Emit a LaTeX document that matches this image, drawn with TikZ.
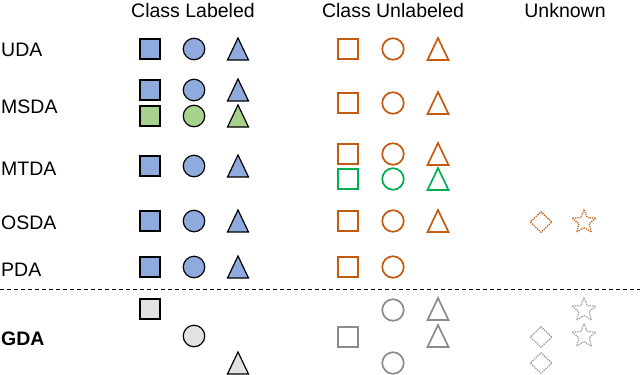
\documentclass[tikz,border=0pt]{standalone}
\usepackage{fontspec}
\setmainfont{Liberation Sans}
\usetikzlibrary{shapes.geometric}
\definecolor{lblue}{HTML}{8FAADC}
\definecolor{lgreen}{HTML}{A9D18E}
\definecolor{orng}{HTML}{C55A11}
\definecolor{grn}{HTML}{00B050}
\definecolor{lgray}{HTML}{E2E2E2}
\definecolor{mgray}{HTML}{8C8C8C}
\definecolor{dgray}{HTML}{9A9A9A}
\tikzset{
  txt/.style={font=\fontsize{19.5bp}{22bp}\selectfont, inner sep=0pt},
  hdr/.style={txt, anchor=base},
  rowlab/.style={txt, anchor=base west},
  sq/.style={rectangle, minimum size=20bp, inner sep=0pt},
  ci/.style={circle, minimum size=21.5bp, inner sep=0pt},
  lab/.style={draw=black, line width=1.2bp, fill=#1},
  unl/.style={draw=#1, line width=1.7bp},
  dia/.style={diamond, minimum width=22bp, minimum height=21bp, inner sep=0pt, draw=#1, densely dotted, line width=1.3bp},
  st/.style={star, star points=5, star point ratio=2.3, minimum size=25bp, inner sep=0pt, draw=#1, densely dotted, line width=1.2bp},
}
% triangle centred at (#1,#2) drawn with style #3
\newcommand{\tri}[3]{\draw[#3] (#1-10.5,#2+11) -- (#1+10.5,#2+11) -- (#1,#2-11) -- cycle;}
\begin{document}
\begin{tikzpicture}[x=1bp,y=-1bp]
\useasboundingbox (0,0) rectangle (640,374);
% headers
\node[hdr] (h1) at (193,17) {Class Labeled};
\node[hdr] (h2) at (393,17) {Class Unlabeled};
\node[hdr] (h3) at (565,17) {Unknown};
% row labels
\node[rowlab] (uda) at (1,56) {UDA};
\node[rowlab] (msda) at (1,113) {MSDA};
\node[rowlab] (mtda) at (1,175) {MTDA};
\node[rowlab] (osda) at (1,229) {OSDA};
\node[rowlab] (pda) at (1,276) {PDA};
\node[rowlab] (gda) at (1,345) {\bfseries GDA};
% dashed separator
\coordinate (dl) at (0,289);
\coordinate (dr) at (640,289);
\draw[line width=1bp, dash pattern=on 4bp off 3bp] (dl) -- (dr);

% ---- UDA
\node[sq, lab=lblue] (u1) at (150,49) {};
\node[ci, lab=lblue] (u2) at (194,49) {};
\tri{238}{49}{lab=lblue}
\node[sq, unl=orng] (u4) at (348,49) {};
\node[ci, unl=orng] (u5) at (393,49) {};
\tri{438}{49}{unl=orng}

% ---- MSDA
\node[sq, lab=lblue] (ms1) at (150,90) {};
\node[ci, lab=lblue] (ms2) at (194,90) {};
\tri{238}{90}{lab=lblue}
\node[sq, lab=lgreen] (ms3) at (150,116) {};
\node[ci, lab=lgreen] (ms4) at (194,116) {};
\tri{238}{116}{lab=lgreen}
\node[sq, unl=orng] (ms5) at (348,103) {};
\node[ci, unl=orng] (ms6) at (393,103) {};
\tri{438}{103}{unl=orng}

% ---- MTDA
\node[sq, lab=lblue] (mt1) at (150,166) {};
\node[ci, lab=lblue] (mt2) at (194,166) {};
\tri{238}{166}{lab=lblue}
\node[sq, unl=orng] (mt3) at (348,154) {};
\node[ci, unl=orng] (mt4) at (393,154) {};
\tri{438}{154}{unl=orng}
\node[sq, unl=grn] (mt5) at (348,179) {};
\node[ci, unl=grn] (mt6) at (393,179) {};
\tri{438}{179}{unl=grn}

% ---- OSDA
\node[sq, lab=lblue] (os1) at (150,221) {};
\node[ci, lab=lblue] (os2) at (194,221) {};
\tri{238}{221}{lab=lblue}
\node[sq, unl=orng] (os3) at (348,221) {};
\node[ci, unl=orng] (os4) at (393,221) {};
\tri{438}{221}{unl=orng}
\node[dia=orng] (os5) at (541,222) {};
\node[st=orng] (os6) at (584,222) {};

% ---- PDA
\node[sq, lab=lblue] (pd1) at (150,267) {};
\node[ci, lab=lblue] (pd2) at (194,267) {};
\tri{238}{267}{lab=lblue}
\node[sq, unl=orng] (pd3) at (348,267) {};
\node[ci, unl=orng] (pd4) at (393,267) {};

% ---- GDA
\node[sq, lab=lgray] (g1) at (150,309) {};
\node[ci, lab=lgray] (g2) at (194,336) {};
\tri{238}{363}{lab=lgray}
\node[sq, unl=mgray] (g3) at (348,337) {};
\node[ci, unl=mgray] (g4) at (393,310) {};
\node[ci, unl=mgray] (g5) at (393,363) {};
\tri{438}{309}{unl=mgray}
\tri{438}{336}{unl=mgray}
\node[dia=dgray] (g6) at (541,337) {};
\node[dia=dgray] (g7) at (541,363) {};
\node[st=dgray] (g8) at (584,310) {};
\node[st=dgray] (g9) at (584,336) {};
\end{tikzpicture}
\end{document}
